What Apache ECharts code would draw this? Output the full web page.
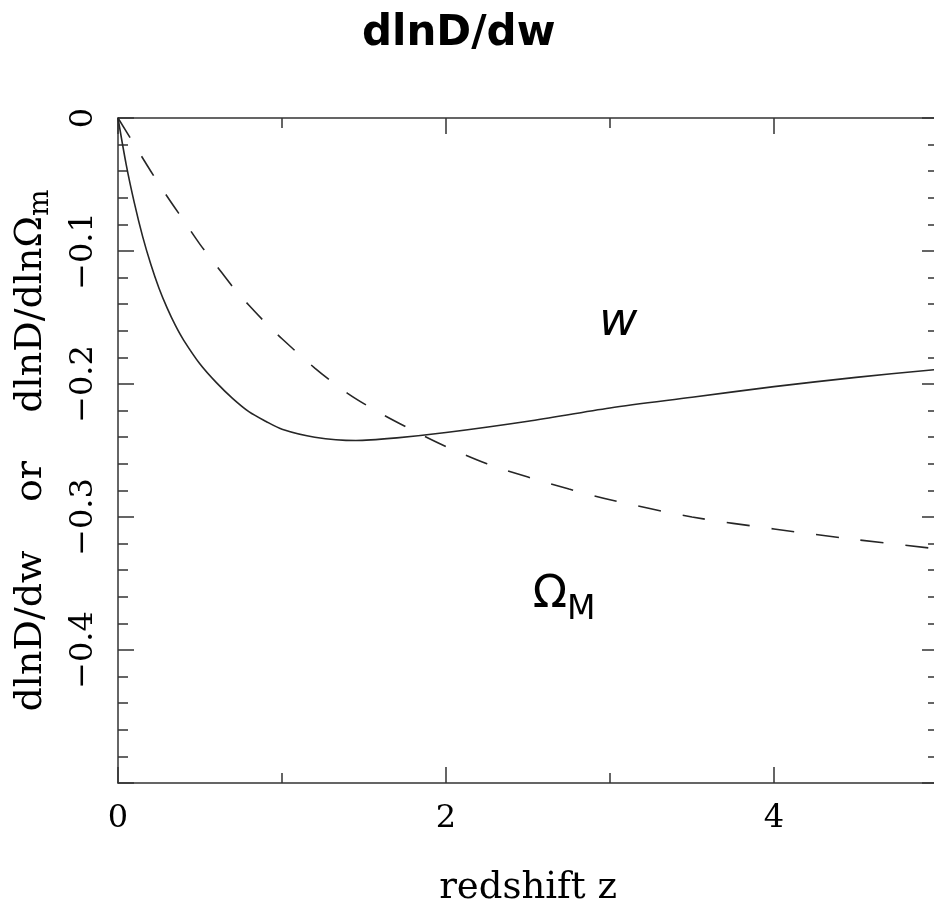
<!DOCTYPE html>
<html>
<head>
<meta charset="utf-8">
<script src="https://cdn.jsdelivr.net/npm/echarts@6/dist/echarts.min.js"></script>
<style>
  html, body { margin: 0; padding: 0; background: #ffffff; }
  #chart { width: 934px; height: 903px; }
</style>
</head>
<body>
<div id="chart"></div>
<script>
// ---- data ----
const titleText = 'dlnD/dw';
const xAxisName = 'redshift z';
const yAxisNameA = 'dlnD/dw    or    dlnD/dlnΩ';
const yAxisNameSub = 'm';
const labelW = 'w';
const labelOmega = 'Ω';
const labelOmegaSub = 'M';

// solid curve: dlnD/dw
const zW = [0, 0.05, 0.1, 0.15, 0.2, 0.25, 0.3, 0.35, 0.4, 0.5, 0.6, 0.7, 0.8, 0.9, 1.0, 1.2, 1.45, 1.7, 2.0, 2.5, 3.0, 3.5, 4.0, 4.5, 5.0];
const dW = [0, -0.035, -0.064, -0.089, -0.110, -0.128, -0.143, -0.156, -0.167, -0.185, -0.199, -0.211, -0.221, -0.228, -0.234, -0.240, -0.2425, -0.2405, -0.2365, -0.228, -0.218, -0.210, -0.202, -0.195, -0.189];

// dashed curve: dlnD/dlnOmega_m
const zOm = [0, 0.1, 0.2, 0.3, 0.4, 0.5, 0.6, 0.7, 0.8, 0.9, 1.0, 1.2, 1.4, 1.6, 1.8, 2.0, 2.25, 2.5, 2.75, 3.0, 3.5, 4.0, 4.5, 5.0];
const dOm = [0, -0.020, -0.040, -0.059, -0.077, -0.095, -0.111, -0.127, -0.141, -0.154, -0.166, -0.188, -0.207, -0.222, -0.235, -0.247, -0.260, -0.270, -0.279, -0.287, -0.300, -0.309, -0.317, -0.324];

// axis ranges / tick steps
const xMin = 0, xMax = 5, xMajor = 2, xMinor = 1;
const yMin = -0.5, yMax = 0, yMajor = 0.1;

// label anchor points (data coordinates)
const wLabelAt = [3.05, -0.154];
const omLabelAt = [2.72, -0.366];

const lineColor = '#262626';
const axisColor = '#333333';
const serif = '"DejaVu Serif", serif';

function yFmt(v) {
  if (Math.abs(v) < 1e-9) return '0';
  return (v < 0 ? '\u2212' : '') + Math.abs(v).toFixed(1);
}
function xFmt(v) {
  const r = Math.round(v);
  return (r % 2 === 0) ? String(r) : '';
}

const chart = echarts.init(document.getElementById('chart'), null, { renderer: 'canvas' });

const axLine = { show: true, onZero: false, lineStyle: { color: axisColor, width: 1.5 } };
const noLine = { show: false, onZero: false };
const tickStyle = { color: axisColor, width: 1.5 };

const option = {
  animation: false,
  backgroundColor: '#ffffff',
  title: {
    text: titleText,
    left: 357,
    top: 8,
    textStyle: { fontFamily: '"DejaVu Sans", sans-serif', fontWeight: 'bold', fontSize: 42, color: '#000' }
  },
  grid: { left: 118, top: 118, width: 820, height: 665, containLabel: false, outerBoundsMode: 'none' },
  xAxis: [
    { // bottom minor ticks + labels + line
      type: 'value', position: 'bottom', min: xMin, max: xMax, interval: xMinor,
      name: xAxisName, nameLocation: 'middle', nameGap: 87,
      nameTextStyle: { fontFamily: serif, fontSize: 37, color: '#000' },
      axisLine: axLine,
      axisTick: { show: true, inside: true, length: 10, lineStyle: tickStyle },
      axisLabel: { show: true, formatter: xFmt, margin: 20, fontFamily: serif, fontSize: 32, color: '#000', showMaxLabel: false },
      splitLine: { show: false }
    },
    { // bottom major ticks
      type: 'value', position: 'bottom', min: xMin, max: xMax, interval: xMajor,
      axisLine: noLine,
      axisTick: { show: true, inside: true, length: 16, lineStyle: tickStyle },
      axisLabel: { show: false }, splitLine: { show: false }
    },
    { // top minor ticks + line
      type: 'value', position: 'top', min: xMin, max: xMax, interval: xMinor,
      axisLine: axLine,
      axisTick: { show: true, inside: true, length: 10, lineStyle: tickStyle },
      axisLabel: { show: false }, splitLine: { show: false }
    },
    { // top major ticks
      type: 'value', position: 'top', min: xMin, max: xMax, interval: xMajor,
      axisLine: noLine,
      axisTick: { show: true, inside: true, length: 16, lineStyle: tickStyle },
      axisLabel: { show: false }, splitLine: { show: false }
    }
  ],
  yAxis: [
    {
      type: 'value', position: 'left', min: yMin, max: yMax, interval: yMajor,
      name: '{a|' + yAxisNameA + '}{b|' + yAxisNameSub + '}',
      nameLocation: 'middle', nameGap: 60, nameRotate: 90,
      nameTextStyle: {
        fontFamily: serif, color: '#000',
        rich: {
          a: { fontFamily: serif, fontSize: 38, lineHeight: 38, padding: [0, 0, 10, 0], color: '#000' },
          b: { fontFamily: serif, fontSize: 28, lineHeight: 28, verticalAlign: 'bottom', color: '#000' }
        }
      },
      axisLine: axLine,
      axisTick: { show: true, inside: true, length: 16, lineStyle: tickStyle },
      minorTick: { show: true, splitNumber: 5, length: 10, lineStyle: tickStyle },
      axisLabel: { show: true, rotate: 90, margin: 18, formatter: yFmt, fontFamily: serif, fontSize: 32, color: '#000', showMinLabel: false },
      splitLine: { show: false }, minorSplitLine: { show: false }
    },
    {
      type: 'value', position: 'right', min: yMin, max: yMax, interval: yMajor,
      axisLine: axLine,
      axisTick: { show: true, inside: true, length: 16, lineStyle: tickStyle },
      minorTick: { show: true, splitNumber: 5, length: 10, lineStyle: tickStyle },
      axisLabel: { show: false },
      splitLine: { show: false }, minorSplitLine: { show: false }
    }
  ],
  series: [
    {
      name: 'w', type: 'line', xAxisIndex: 0, yAxisIndex: 0,
      data: zW.map((z, i) => [z, dW[i]]),
      showSymbol: false, smooth: 0.3,
      lineStyle: { color: lineColor, width: 1.6, type: 'solid' },
      markPoint: {
        symbol: 'circle', symbolSize: 0, silent: true,
        label: { show: true, position: 'inside', formatter: labelW, fontFamily: '"DejaVu Sans", sans-serif', fontStyle: 'italic', fontSize: 47, color: '#000' },
        data: [{ coord: wLabelAt }]
      }
    },
    {
      name: 'OmegaM', type: 'line', xAxisIndex: 0, yAxisIndex: 0,
      data: zOm.map((z, i) => [z, dOm[i]]),
      showSymbol: false, smooth: 0.3,
      lineStyle: { color: lineColor, width: 1.6, type: [23, 22] },
      markPoint: {
        symbol: 'circle', symbolSize: 0, silent: true,
        label: {
          show: true, position: 'inside',
          formatter: '{o|' + labelOmega + '}{s|' + labelOmegaSub + '}',
          rich: {
            o: { fontFamily: '"DejaVu Sans", sans-serif', fontSize: 45, lineHeight: 45, padding: [0, 0, 18, 0], color: '#000' },
            s: { fontFamily: '"DejaVu Sans", sans-serif', fontSize: 33, lineHeight: 33, verticalAlign: 'bottom', color: '#000' }
          }
        },
        data: [{ coord: omLabelAt }]
      }
    }
  ]
};
chart.setOption(option);
</script>
</body>
</html>
